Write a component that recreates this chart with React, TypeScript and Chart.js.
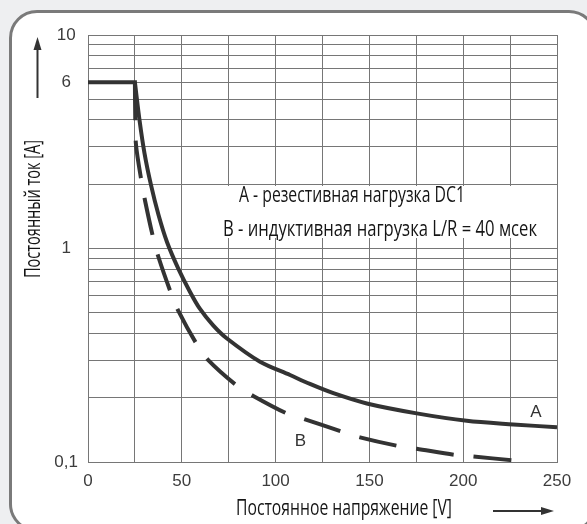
import React, { useEffect, useRef } from "react";
import { Chart, registerables } from "chart.js";

Chart.register(...registerables);

// ---- data ----
const voltageA = [0, 25, 27.45, 30.1, 33.6, 37.6, 42.1, 48.0, 54.4, 59.7, 66.6, 73.9, 91.7, 107.7, 118.3, 130.8, 148.6, 175.2, 201.9, 226.7, 250];
const currentA = [6, 6, 4.0, 2.8, 1.98, 1.435, 1.073, 0.81, 0.626, 0.521, 0.438, 0.38, 0.295, 0.2555, 0.232, 0.21, 0.188, 0.169, 0.156, 0.15, 0.1454];

const voltageB = [25, 25.2, 25.6, 28.4, 30.5, 34.6, 37.5, 44.1, 48.1, 57.9, 64.1, 79.3, 88.1, 105.9, 115.7, 135.2, 145, 165.1, 175.2, 195.6, 205.4, 225.9];
const currentB = [6, 4.0, 3.05, 2.09, 1.66, 1.136, 0.915, 0.623, 0.512, 0.357, 0.3, 0.228, 0.204, 0.169, 0.1585, 0.139, 0.1305, 0.119, 0.1154, 0.108, 0.106, 0.102];

const yGridValues = [0.1, 0.2, 0.3, 0.4, 0.5, 0.6, 0.7, 0.8, 0.9, 1, 2, 3, 4, 5, 6, 7, 8, 9, 10];
const yLabelValues = [0.1, 1, 6, 10];
const yLabelTexts = ["0,1", "1", "6", "10"];
const xLabelValues = [0, 50, 100, 150, 200, 250];

const xTitle = "Постоянное напряжение [V]";
const yTitle = "Постоянный ток [A]";
const noteA = "A - резестивная нагрузка DC1";
const noteB = "B - индуктивная нагрузка L/R = 40 мсек";
const curveLabelA = "A";
const curveLabelB = "B";

const TEXT_FONT = '"Open Sans", "Noto Sans", sans-serif';
const TICK_FONT = '"Liberation Sans", Arial, sans-serif';
const INK = "#333333";

function fitText(ctx: CanvasRenderingContext2D, text: string, x: number, y: number, width: number, font: string) {
  ctx.save();
  ctx.font = font;
  ctx.textAlign = "left";
  ctx.textBaseline = "alphabetic";
  const w = ctx.measureText(text).width;
  ctx.translate(x, y);
  ctx.scale(width / w, 1);
  ctx.fillText(text, 0, 0);
  ctx.restore();
}

const overlay = {
  id: "overlay",
  beforeDatasetsDraw(chart: any) {
    const ctx = chart.ctx as CanvasRenderingContext2D;
    ctx.save();
    ctx.fillStyle = "#ffffff";
    ctx.fillRect(220, 186, 325, 52);
    ctx.restore();
  },
  afterDraw(chart: any) {
    const ctx = chart.ctx as CanvasRenderingContext2D;
    ctx.save();
    ctx.fillStyle = "#151515";
    fitText(ctx, noteA, 239, 202, 226, `21px ${TEXT_FONT}`);
    fitText(ctx, noteB, 223, 236, 314, `21px ${TEXT_FONT}`);
    fitText(ctx, xTitle, 236, 515, 216, `21px ${TEXT_FONT}`);

    // y title rotated
    ctx.save();
    ctx.font = `21px ${TEXT_FONT}`;
    const w = ctx.measureText(yTitle).width;
    ctx.translate(40, 209);
    ctx.rotate(-Math.PI / 2);
    ctx.scale(138 / w, 1);
    ctx.textAlign = "center";
    ctx.textBaseline = "alphabetic";
    ctx.fillText(yTitle, 0, 0);
    ctx.restore();

    // curve labels
    ctx.font = `17px ${TICK_FONT}`;
    ctx.fillStyle = INK;
    ctx.textAlign = "center";
    ctx.textBaseline = "middle";
    ctx.fillText(curveLabelA, 536, 412);
    ctx.fillText(curveLabelB, 300.5, 441);

    // arrows
    ctx.strokeStyle = INK;
    ctx.fillStyle = INK;
    ctx.lineWidth = 2;
    ctx.beginPath();
    ctx.moveTo(37.5, 98);
    ctx.lineTo(37.5, 48);
    ctx.stroke();
    ctx.beginPath();
    ctx.moveTo(37.5, 37);
    ctx.lineTo(41.5, 50);
    ctx.lineTo(33.5, 50);
    ctx.closePath();
    ctx.fill();

    ctx.beginPath();
    ctx.moveTo(493, 511);
    ctx.lineTo(543, 511);
    ctx.stroke();
    ctx.beginPath();
    ctx.moveTo(554, 511);
    ctx.lineTo(541, 507);
    ctx.lineTo(541, 515);
    ctx.closePath();
    ctx.fill();
    ctx.restore();
  },
};

export default function App() {
  const ref = useRef<HTMLCanvasElement | null>(null);

  useEffect(() => {
    if (!ref.current) return;
    const pointsA = voltageA.map((x, i) => ({ x, y: currentA[i] }));
    const pointsB = voltageB.map((x, i) => ({ x, y: currentB[i] }));
    const chart = new Chart(ref.current, {
      type: "line",
      data: {
        datasets: [
          {
            label: "B",
            data: pointsB,
            borderColor: INK,
            borderWidth: 4,
            borderDash: [38, 20],
            borderCapStyle: "butt",
            tension: 0.3,
            pointRadius: 0,
            fill: false,
          },
          {
            label: "A (flat)",
            data: pointsA.slice(0, 2),
            borderColor: INK,
            borderWidth: 4,
            borderCapStyle: "square",
            tension: 0,
            pointRadius: 0,
            fill: false,
          },
          {
            label: "A",
            data: pointsA.slice(1),
            borderColor: INK,
            borderWidth: 4,
            tension: 0.3,
            pointRadius: 0,
            fill: false,
          },
        ],
      },
      options: {
        responsive: false,
        animation: false,
        devicePixelRatio: 1,
        layout: { padding: { left: 0, right: 30, top: 35, bottom: 0 } },
        plugins: { legend: { display: false }, tooltip: { enabled: false } },
        scales: {
          x: {
            type: "linear",
            min: 0,
            max: 250,
            ticks: {
              stepSize: 25,
              autoSkip: false,
              maxRotation: 0,
              padding: 9,
              color: "#3c3c3c",
              font: { family: TICK_FONT, size: 17 },
              callback: (v: any) => (xLabelValues.includes(Number(v)) ? String(v) : ""),
            },
            grid: { color: "#767676", lineWidth: 1, drawTicks: false },
            border: { color: "#767676", width: 1 },
            afterFit: (s: any) => {
              s.height = 62;
            },
          },
          y: {
            type: "logarithmic",
            min: 0.1,
            max: 10,
            afterBuildTicks: (s: any) => {
              s.ticks = yGridValues.map((value) => ({ value }));
            },
            ticks: {
              autoSkip: false,
              padding: 10,
              crossAlign: "center",
              color: "#3c3c3c",
              font: { family: TICK_FONT, size: 17 },
              callback: (v: any) => {
                const i = yLabelValues.findIndex((t) => Math.abs(t - Number(v)) < 1e-9);
                return i >= 0 ? yLabelTexts[i] : "";
              },
            },
            grid: { color: "#767676", lineWidth: 1, drawTicks: false },
            border: { color: "#767676", width: 1 },
            afterFit: (s: any) => {
              s.width = 88;
            },
          },
        },
      },
      plugins: [overlay],
    } as any);
    return () => chart.destroy();
  }, []);

  return (
    <div
      style={{
        position: "fixed",
        left: 0,
        top: 0,
        width: 587,
        height: 524,
        background: "#eeeff1",
        overflow: "hidden",
      }}
    >
      <div
        style={{
          position: "absolute",
          left: 9,
          top: 10,
          width: 588,
          height: 522,
          boxSizing: "border-box",
          border: "3px solid #7a7a7a",
          borderRadius: 28,
          background: "#ffffff",
        }}
      />
      <canvas
        ref={ref}
        width={587}
        height={524}
        style={{ position: "absolute", left: 0, top: 0, width: 587, height: 524 }}
      />
    </div>
  );
}
